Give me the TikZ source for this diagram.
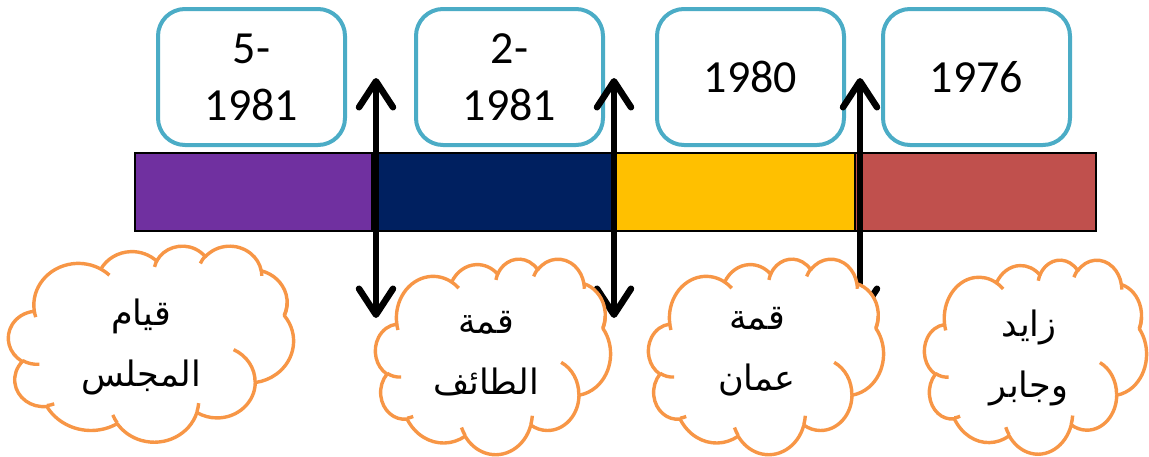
\documentclass[tikz,border=0pt]{standalone}
\usepackage{fontspec}
\setmainfont{Carlito}
\newfontfamily\arabicfont[Script=Arabic]{DejaVu Sans}
\TeXXeTstate=1
\usetikzlibrary{arrows.meta}
\definecolor{boxteal}{RGB}{75,172,198}
\definecolor{cloudorange}{RGB}{247,150,70}
\definecolor{segpurple}{RGB}{112,48,160}
\definecolor{segnavy}{RGB}{0,32,96}
\definecolor{segyellow}{RGB}{255,192,0}
\definecolor{segred}{RGB}{192,80,77}
\tikzset{
  yearbox/.style={draw=boxteal, line width=4pt, fill=white, rounded corners=27pt,
    minimum width=187pt, minimum height=136pt, inner sep=0pt, align=center,
    font=\fontsize{46}{57}\selectfont},
  bartile/.style={draw=black, line width=1.3pt, minimum height=78pt, inner sep=0pt},
  timearrow/.style={line width=6.5pt, black,
    {Straight Barb[length=26pt,width=34pt,round]}-{Straight Barb[length=26pt,width=34pt,round]}},
  cloudarea/.style={inner sep=0pt, outer sep=0pt},
  cloudline/.style={draw=cloudorange, line width=3.4pt, line join=round},
  arabictext/.style={align=center, font=\arabicfont\fontsize{35}{61}\selectfont, inner sep=0pt}
}
% PowerPoint-style cloud, drawn in a 432x432 box fitted to node #1 (path size #2 x #3)
\newcommand{\pptcloud}[3]{%
  \pgfmathsetmacro\cloudxu{#2/432}%
  \pgfmathsetmacro\cloudyu{#3/432}%
  \begin{scope}[shift={(#1.north west)}, x=\cloudxu pt, y=-\cloudyu pt]
    \draw[cloudline, fill=white] (39.00,143.70)
      arc[start angle=-187.74, delta angle=128.10, x radius=67.53, y radius=91.90]
      arc[start angle=-152.02, delta angle=106.56, x radius=53.33, y radius=72.67]
      arc[start angle=-153.49, delta angle=116.17, x radius=43.65, y radius=59.45]
      arc[start angle=-139.72, delta angle=129.51, x radius=48.57, y radius=65.95]
      arc[start angle=-74.77, delta angle=97.98, x radius=53.33, y radius=72.73]
      arc[start angle=-37.53, delta angle=119.39, x radius=67.75, y radius=92.20]
      arc[start angle=0.46, delta angle=121.51, x radius=57.85, y radius=78.67]
      arc[start angle=16.84, delta angle=129.39, x radius=67.52, y radius=92.15]
      arc[start angle=58.98, delta angle=91.20, x radius=77.20, y radius=105.43]
      arc[start angle=-276.69, delta angle=139.78, x radius=43.60, y radius=59.18]
      arc[start angle=-239.64, delta angle=143.75, x radius=43.45, y radius=59.45]
      -- cycle;
    \draw[cloudline]
      (46.93,261.77) arc[start angle=85.55, delta angle=34.81, x radius=43.45, y radius=59.45]
      (69.28,348.99) arc[start angle=68.23, delta angle=15.08, x radius=43.60, y radius=59.18]
      (164.78,390.90) arc[start angle=146.23, delta angle=12.24, x radius=67.52, y radius=92.15]
      (288.27,347.51) arc[start angle=4.74, delta angle=12.10, x radius=67.52, y radius=92.15]
      (341.29,229.54) arc[start angle=-64.03, delta angle=64.49, x radius=57.85, y radius=78.67]
      (417.98,153.54) arc[start angle=23.21, delta angle=-21.33, x radius=53.33, y radius=72.73]
      (383.24,54.26) arc[start angle=-10.21, delta angle=11.03, x radius=48.57, y radius=65.95]
      (290.78,39.52) arc[start angle=-156.29, delta angle=16.57, x radius=48.57, y radius=65.95]
      (221.41,47.20) arc[start angle=-167.73, delta angle=14.24, x radius=43.65, y radius=59.45]
      (140.00,51.92) arc[start angle=-59.64, delta angle=13.91, x radius=67.53, y radius=91.90]
      (41.27,157.89) arc[start angle=163.19, delta angle=9.07, x radius=67.53, y radius=91.90];
  \end{scope}}
\begin{document}
\begin{tikzpicture}[x=1pt,y=-1pt]
\useasboundingbox (0,0) rectangle (1149,456);
% timeline bar
\node[bartile, fill=segpurple, minimum width=237pt] (s1) at (253.5,192) {};
\node[bartile, fill=segnavy, minimum width=244pt] (s2) at (494,192) {};
\node[bartile, fill=segyellow, minimum width=239pt] (s3) at (735.5,192) {};
\node[bartile, fill=segred, minimum width=241pt] (s4) at (975.5,192) {};
% year boxes
\node[yearbox] (b1) at (251.5,77) {5-\\1981};
\node[yearbox] (b2) at (509.5,77) {2-\\1981};
\node[yearbox] (b3) at (750.5,77) {1980};
\node[yearbox] (b4) at (976.5,77) {1976};
% arrows
\coordinate (a1t) at (376,78); \coordinate (a1b) at (376,318);
\coordinate (a2t) at (614,78); \coordinate (a2b) at (614,318);
\coordinate (a3t) at (860,78); \coordinate (a3b) at (860,318);
\draw[timearrow] (a1b) -- (a1t);
\draw[timearrow] (a2b) -- (a2t);
\draw[timearrow] (a3b) -- (a3t);
% cloud areas
\node[cloudarea, minimum width=285pt, minimum height=196pt] (c1) at (151,343.5) {};
\node[cloudarea, minimum width=235pt, minimum height=195.5pt] (c2) at (493,356.25) {};
\node[cloudarea, minimum width=235pt, minimum height=195.5pt] (c3) at (766,356.25) {};
\node[cloudarea, minimum width=222pt, minimum height=194pt] (c4) at (1035.5,356.5) {};
\pptcloud{c1}{285}{196}
\pptcloud{c2}{235}{195.5}
\pptcloud{c3}{235}{195.5}
\pptcloud{c4}{222}{194}
% cloud texts
\node[arabictext] (t1) at (141,347) {\beginR قيام\endR\\\beginR المجلس\endR};
\node[arabictext] (t2) at (486,354) {\beginR قمة\endR\\\beginR الطائف\endR};
\node[arabictext] (t3) at (757,352) {\beginR قمة\endR\\\beginR عمان\endR};
\node[arabictext] (t4) at (1029,358) {\beginR زايد\endR\\\beginR وجابر\endR};
\end{tikzpicture}
\end{document}
